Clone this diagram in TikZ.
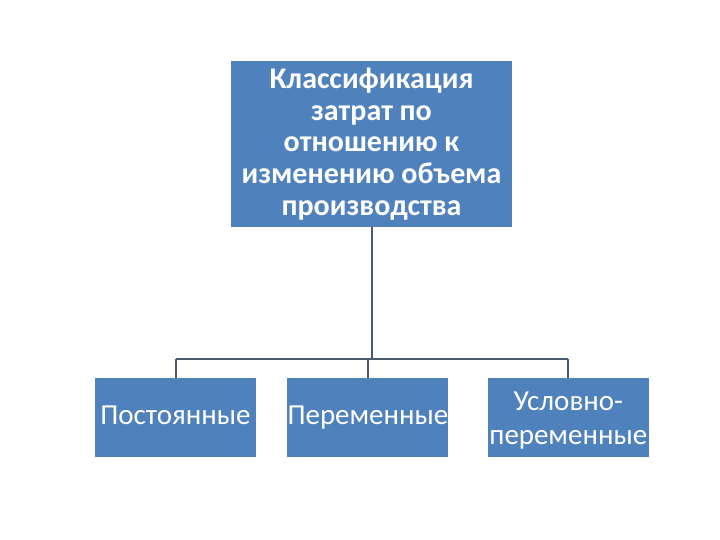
\documentclass[tikz,border=0pt]{standalone}
\usepackage{fontspec}
\setmainfont{Carlito}
\usepackage{tikz}
\usetikzlibrary{positioning}

\definecolor{boxblue}{HTML}{4F81BD}
\definecolor{linegrey}{HTML}{4A5870}

\tikzset{
	head/.style={fill=boxblue, text=white, inner sep=0pt, align=center,
		minimum width=281pt, minimum height=166pt,
		font=\fontsize{30}{31.8}\selectfont\bfseries},
	kind/.style={fill=boxblue, text=white, inner sep=0pt, align=center,
		text width=161pt, minimum height=79pt,
		font=\fontsize{29}{34}\selectfont, execute at begin node=\strut},
	link/.style={draw=linegrey, line width=2pt},
}

\begin{document}
\begin{tikzpicture}[x=1pt, y=-1pt]
		\useasboundingbox (0,0) rectangle (720,540);
		\node [head] (class) at (371.5,144) {Классификация\\затрат по\\отношению к\\изменению объема\\производства};
		\node [kind] (fixed) at (175.5,417.5) {Постоянные};
		\node [kind, right=31pt of fixed] (var) {Переменные};
		\node [kind, right=39pt of var] (semi) {Условно-\\переменные};
		\coordinate (bus) at (371.5,359);
		% stem and bus
		\draw [link] (class.south) -- (bus);
		\draw [link] (fixed.north |- bus) -- (semi.north |- bus);
		% drops
		\draw [link] (fixed.north |- bus) -- (fixed.north);
		\draw [link] (var.north |- bus) -- (var.north);
		\draw [link] (semi.north |- bus) -- (semi.north);
\end{tikzpicture}
\end{document}
